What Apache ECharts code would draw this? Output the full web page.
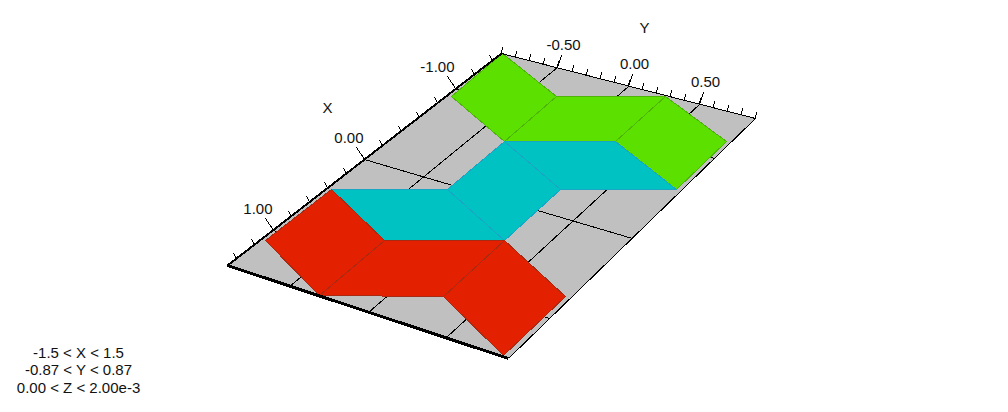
<!DOCTYPE html>
<html>
<head>
<meta charset="utf-8">
<style>
html,body{margin:0;padding:0;background:#fff}
#c{width:1008px;height:412px}
#c svg path,#c svg polyline,#c svg polygon,#c svg line{shape-rendering:crispEdges}
</style>
<script src="https://cdn.jsdelivr.net/npm/echarts@6/dist/echarts.min.js"></script>
</head>
<body>
<div id="c"></div>
<script>
// Plane extents
const xRange = [-1.5, 1.5];
const yRange = [-0.9, 0.9];

// Axis ticks
const xMinorTicks = [-1.4,-1.2,-1.0,-0.8,-0.6,-0.4,-0.2,0,0.2,0.4,0.6,0.8,1.0,1.2,1.4];
const yMinorTicks = [-0.9,-0.8,-0.7,-0.6,-0.5,-0.4,-0.3,-0.2,-0.1,0,0.1,0.2,0.3,0.4,0.5,0.6,0.7,0.8,0.9];
const xMajorTicks = [-1, 0, 1];
const yMajorTicks = [-0.5, 0, 0.5];
const xTickLabels = ['-1.00', '0.00', '1.00'];
const yTickLabels = ['-0.50', '0.00', '0.50'];
const rangeLines = ['-1.5 < X < 1.5', '-0.87 < Y < 0.87', '0.00 < Z < 2.00e-3'];

// Tile vertices on the plane, as [X, Y]
const greenTiles = [
  [[-1.50,-0.895],[-1.20,-0.322],[-0.595,-0.312],[-0.907,-0.871]],
  [[-1.20,-0.322],[-1.49,0.269],[-0.903,0.269],[-0.595,-0.312]],
  [[-1.49,0.269],[-1.199,0.871],[-0.596,0.869],[-0.903,0.269]]
];
const tealTiles = [
  [[-0.595,-0.312],[-0.903,0.269],[-0.596,0.869],[-0.274,0.261]],
  [[0.055,-0.309],[-0.595,-0.312],[-0.274,0.261],[0.389,0.266]],
  [[0.406,-0.873],[0.055,-0.309],[0.389,0.266],[0.752,-0.318]]
];
const redTiles = [
  [[1.127,-0.875],[0.406,-0.873],[0.752,-0.318],[1.50,-0.312]],
  [[0.752,-0.318],[0.389,0.266],[1.115,0.273],[1.50,-0.312]],
  [[0.389,0.266],[0.745,0.866],[1.487,0.863],[1.115,0.273]]
];

// Screen view of the tilted plane: where the four plane corners land
const view = { a:[502,53], b:[756,118], c:[228,265], d:[509,358] };

function project(api, X, Y) {
  const p = api.coord([Y, X]);
  const t = p[0] / api.getWidth();
  const s = p[1] / api.getHeight();
  const mix = (i) => view.a[i]*(1-s)*(1-t) + view.b[i]*(1-s)*t + view.c[i]*s*(1-t) + view.d[i]*s*t;
  return [Math.round(mix(0)) - 0.5, Math.round(mix(1)) + 0.5];
}

const chart = echarts.init(document.getElementById('c'), null, { renderer: 'svg', width: 1008, height: 412 });

function tileSeries(tiles, fill, edge) {
  return {
    type: 'custom', coordinateSystem: 'cartesian2d', clip: false, silent: true,
    data: tiles.map((t, i) => [i]),
    renderItem: (params, api) => ({
      type: 'polygon',
      shape: { points: tiles[api.value(0)].map(v => project(api, v[0], v[1])) },
      style: { fill: fill, stroke: edge, lineWidth: 1 }
    })
  };
}

function lineSeries(items, draw) {
  return {
    type: 'custom', coordinateSystem: 'cartesian2d', clip: false, silent: true,
    data: items.map((t, i) => [i]),
    renderItem: (params, api) => draw(items[api.value(0)], api)
  };
}

const seg = (p, q, w) => ({
  type: 'line',
  shape: { x1: p[0], y1: p[1], x2: q[0], y2: q[1] },
  style: { stroke: '#000', lineWidth: w }
});
const txt = (p, s, align) => ({
  type: 'text',
  x: p[0], y: p[1],
  style: { text: s, fill: '#111', font: '15px "Liberation Sans", Arial, sans-serif', align: align || 'center', verticalAlign: 'middle' }
});
const off = (p, dx, dy) => [p[0] + dx, p[1] + dy];

const series = [
  // Plane
  lineSeries([0], (_, api) => ({
    type: 'polygon',
    shape: { points: [
      project(api, xRange[0], yRange[0]), project(api, xRange[0], yRange[1]),
      project(api, xRange[1], yRange[1]), project(api, xRange[1], yRange[0])
    ] },
    style: { fill: '#c0c0c0' }
  })),
  // Grid lines
  lineSeries(xMajorTicks, (X, api) => seg(project(api, X, yRange[0]), project(api, X, yRange[1]), 1)),
  lineSeries(yMajorTicks, (Y, api) => seg(project(api, xRange[0], Y), project(api, xRange[1], Y), 1)),
  // Tiles
  tileSeries(greenTiles, '#5ce000', '#4fb408'),
  tileSeries(tealTiles, '#00c2c2', '#18a6c4'),
  tileSeries(redTiles, '#e32000', '#a82a12'),
  // Plane edges
  lineSeries([[0,0,0,1,1],[0,0,1,0,2],[0,1,1,1,1],[1,0,1,1,3]], (e, api) => seg(
    project(api, xRange[e[0]], yRange[e[1]]), project(api, xRange[e[2]], yRange[e[3]]), e[4])),
  // Ticks
  lineSeries(xMinorTicks, (X, api) => { const p = project(api, X, yRange[0]); return seg(p, off(p, -3, -5), 1); }),
  lineSeries(yMinorTicks, (Y, api) => { const p = project(api, xRange[0], Y); return seg(p, off(p, 1, -6), 1); }),
  lineSeries(xMajorTicks, (X, api) => { const p = project(api, X, yRange[0]); return seg(p, off(p, -8, -12), 1); }),
  lineSeries(yMajorTicks, (Y, api) => { const p = project(api, xRange[0], Y); return seg(p, off(p, 4, -12), 1); }),
  // Tick labels and axis titles
  lineSeries(xMajorTicks, (X, api) => txt(off(project(api, X, yRange[0]), -1, -22.5), xTickLabels[xMajorTicks.indexOf(X)], 'right')),
  lineSeries(yMajorTicks, (Y, api) => txt(off(project(api, xRange[0], Y), 6, -23), yTickLabels[yMajorTicks.indexOf(Y)])),
  lineSeries(['X'], (s, api) => txt(off(project(api, 0, yRange[0]), -37, -52), s)),
  lineSeries(['Y'], (s, api) => txt(off(project(api, xRange[0], 0), 16, -59), s))
];

chart.setOption({
  animation: false,
  backgroundColor: '#fff',
  grid: { left: 0, right: 0, top: 0, bottom: 0, containLabel: false },
  xAxis: { type: 'value', min: yRange[0], max: yRange[1], show: false },
  yAxis: { type: 'value', min: xRange[0], max: xRange[1], inverse: true, show: false },
  graphic: rangeLines.map((s, i) => ({
    type: 'text', x: 78.5, y: 352 + i * 17.5, silent: true,
    style: { text: s, fill: '#111', font: '15px "Liberation Sans", Arial, sans-serif', align: 'center', verticalAlign: 'middle' }
  })),
  series: series
});
</script>
</body>
</html>
